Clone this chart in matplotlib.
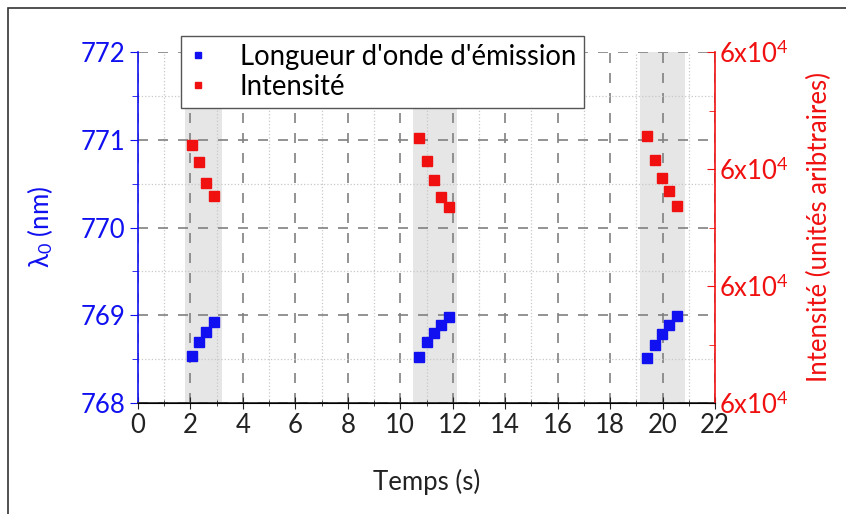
import matplotlib
matplotlib.use("Agg")
import matplotlib.pyplot as plt
from matplotlib.ticker import MultipleLocator, FuncFormatter
from matplotlib.patches import Rectangle

plt.rcParams['font.family'] = ['Lato', 'DejaVu Sans']
plt.rcParams['mathtext.fontset'] = 'custom'
plt.rcParams['mathtext.rm'] = 'Lato'
plt.rcParams['mathtext.it'] = 'Lato:italic'

# temps (s) et longueur d'onde (nm) pour chaque impulsion
temps = [2.05, 2.33, 2.61, 2.91,
         10.72, 11.02, 11.29, 11.57, 11.85,
         19.42, 19.70, 19.97, 20.26, 20.55]
lambda0 = [768.54, 768.70, 768.81, 768.92,
           768.52, 768.69, 768.80, 768.89, 768.98,
           768.51, 768.66, 768.79, 768.89, 768.99]
# intensité (unités arbitraires)
intensite = [60603, 60529, 60439, 60386,
             60631, 60534, 60452, 60382, 60339,
             60642, 60537, 60461, 60406, 60342]
# zones grisées
zones = [(1.79, 3.22), (10.49, 12.15), (19.15, 20.84)]

bleu = '#1010f0'
rouge = '#f01010'
fs = 18.5

fig = plt.figure(figsize=(8.46, 5.14), dpi=100)
# cadre autour de la figure
fig.patches.append(Rectangle((8/846, -0.1), 1.2, 1 - 8/514 + 0.1,
                             transform=fig.transFigure, fill=False,
                             edgecolor='#333333', linewidth=1.2))

ax = fig.add_axes([138/846, 1 - 403/514, (715 - 138)/846, (403 - 52)/514])
ax2 = ax.twinx()

for a, b in zones:
    ax.axvspan(a, b, color='#e6e6e6', zorder=0, linewidth=0)

ax.plot(temps, lambda0, 's', color=bleu, markersize=6.5, zorder=3,
        label="Longueur d'onde d'émission")
ax2.plot(temps, intensite, 's', color=rouge, markersize=6.5, zorder=3,
         label="Intensité")

ax.set_xlim(0, 22)
ax.set_ylim(768, 772)
ax2.set_ylim(59500, 61000)

ax.xaxis.set_major_locator(MultipleLocator(2))
ax.xaxis.set_minor_locator(MultipleLocator(1))
ax.yaxis.set_major_locator(MultipleLocator(1))
ax.yaxis.set_minor_locator(MultipleLocator(0.5))
ax2.yaxis.set_major_locator(MultipleLocator(500))
ax2.yaxis.set_minor_locator(MultipleLocator(250))
ax2.yaxis.set_major_formatter(FuncFormatter(
    lambda v, p: "%dx10$^4$" % round(v / 1e4)))

# grille
ax.grid(which='major', color='#808080', linestyle=(0, (6, 6)), linewidth=1.2)
ax.grid(which='minor', color='#c8c8c8', linestyle=':', linewidth=0.9)

# axes et couleurs
for a in (ax, ax2):
    a.spines['top'].set_visible(False)
ax.spines['right'].set_visible(False)
ax2.spines['left'].set_visible(False)
ax.spines['left'].set_color(bleu)
ax2.spines['right'].set_color(rouge)
ax.spines['bottom'].set_color('#222222')
ax.spines['left'].set_linewidth(1.2)
ax2.spines['right'].set_linewidth(1.2)
ax.spines['bottom'].set_linewidth(1.2)

ax.tick_params(axis='x', which='major', direction='inout', length=9,
               labelsize=fs, colors='#222222', pad=3)
ax.tick_params(axis='x', which='minor', direction='inout', length=5,
               colors='#222222')
ax.tick_params(axis='y', which='major', direction='out', length=6,
               labelsize=fs, colors=bleu, pad=3)
ax.tick_params(axis='y', which='minor', direction='out', length=4,
               colors=bleu)
ax2.tick_params(axis='y', which='major', direction='in', length=6,
                labelsize=fs, colors=rouge, pad=3)
ax2.tick_params(axis='y', which='minor', direction='in', length=4,
                colors=rouge)

ax.set_xlabel("Temps (s)", fontsize=fs, color='#222222', labelpad=22)
ax.set_ylabel("λ$_0$ (nm)", fontsize=fs, color=bleu)
ax2.set_ylabel("Intensité (unités aribtraires)", fontsize=fs, color=rouge)
ax.yaxis.set_label_coords(-0.144, 0.5)
ax2.yaxis.set_label_coords(1.159, 0.5)

h1, l1 = ax.get_legend_handles_labels()
h2, l2 = ax2.get_legend_handles_labels()
leg = ax2.legend(h1 + h2, l1 + l2, loc='upper left',
                 bbox_to_anchor=(181/846, 1 - 36/514),
                 bbox_transform=fig.transFigure, fontsize=19.8,
                 borderaxespad=0, markerscale=0.7, handlelength=0.66,
                 handletextpad=1.2, borderpad=0.28, labelspacing=0.15,
                 fancybox=False, framealpha=1, edgecolor='#555555')
leg.set_zorder(10)

fig.savefig("out.png", dpi=100)
